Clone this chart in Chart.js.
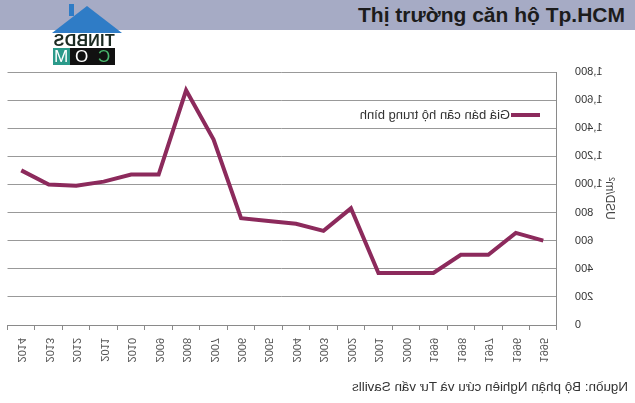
<!DOCTYPE html>
<html>
<head>
<meta charset="utf-8">
<script src="https://cdn.jsdelivr.net/npm/chart.js@4.4.0/dist/chart.umd.min.js"></script>
<style>
  html, body { margin:0; padding:0; background:#fff; }
  body { width:635px; height:403px; position:relative; overflow:hidden; font-family:"Liberation Sans", Arial, sans-serif; }
  #titlebar { position:absolute; left:0; top:0; width:635px; height:30px; background:#a6abc5; z-index:1; }
  #title { position:absolute; right:10px; top:3px; font:bold 21px "Liberation Sans", Arial, sans-serif; color:#1c1c1c; white-space:nowrap; }
  #wrap { position:absolute; left:0; top:0; width:635px; height:403px; transform:scaleX(-1); }
  #chart { position:absolute; left:0; top:0; }
  #source { position:absolute; left:7px; top:379px; font-size:13.4px; color:#333; white-space:nowrap; }
  #logo { position:absolute; left:50px; top:0px; width:72px; height:66px; z-index:2; }
  #roof { position:absolute; left:2px; top:6px; width:70px; height:27px; background:#2f7cc6; clip-path:polygon(0 100%, 50% 0, 100% 100%); }
  #chim { position:absolute; left:19px; top:4px; width:5px; height:12px; background:#2f7cc6; }
  #tin { position:absolute; left:3px; top:32px; width:62px; text-align:center; font:bold 16px "Liberation Sans", Arial, sans-serif; color:#1b2a22; transform:scaleX(-1); letter-spacing:0.3px; }
  .b { position:absolute; top:48px; height:17px; font:17px "Liberation Sans", Arial, sans-serif; line-height:17px; text-align:center; }
  .b span { display:inline-block; transform:scaleX(-1); }
</style>
</head>
<body>
<div id="titlebar"><div id="title">Thị trường căn hộ Tp.HCM</div></div>
<div id="logo">
  <div id="chim"></div><div id="roof"></div>
  <div id="tin">TINBDS</div>
  <div class="b" style="left:3px;width:17px;background:#2b9a8a;color:#fff;"><span>M</span></div>
  <div class="b" style="left:20px;width:23px;background:#111;color:#fff;"><span>O</span></div>
  <div class="b" style="left:43px;width:22px;background:#111;color:#49b86e;"><span>C</span></div>
</div>
<div id="wrap">
  <canvas id="chart" width="635" height="403"></canvas>
  <div id="source">Nguồn: Bộ phận Nghiên cứu và Tư vấn Savills</div>
</div>
<script>
const years = ["1995","1996","1997","1998","1999","2000","2001","2002","2003","2004","2005","2006","2007","2008","2009","2010","2011","2012","2013","2014"];
const avgPrice = [600,655,500,500,370,370,370,830,670,720,740,760,1320,1670,1070,1070,1020,990,1000,1100];
const yTicks = [0,200,400,600,800,1000,1200,1400,1600,1800];
const seriesName = "Giá bán căn hộ trung bình";
const axisTitle = "USD/m²";

const legendPlugin = {
  id: 'innerLegend',
  afterDatasetsDraw(chart) {
    const ctx = chart.ctx;
    const ds = chart.data.datasets[0];
    const area = chart.chartArea;
    const y = area.top + 43;
    const x0 = area.left + 17;
    ctx.save();
    ctx.strokeStyle = ds.borderColor;
    ctx.lineWidth = 4;
    ctx.beginPath();
    ctx.moveTo(x0, y);
    ctx.lineTo(x0 + 29, y);
    ctx.stroke();
    ctx.fillStyle = '#333';
    ctx.font = '13px "Liberation Sans", Arial, sans-serif';
    ctx.textBaseline = 'middle';
    ctx.fillText(ds.label, x0 + 30, y);
    ctx.restore();
  }
};

new Chart(document.getElementById('chart'), {
  type: 'line',
  data: {
    labels: years,
    datasets: [{
      label: seriesName,
      data: avgPrice,
      borderColor: '#8c2a5c',
      borderWidth: 4,
      pointRadius: 0,
      tension: 0,
      fill: false
    }]
  },
  options: {
    responsive: false,
    animation: false,
    layout: { padding: { top: 72, right: 2, bottom: 0, left: 0 } },
    plugins: { legend: { display: false }, tooltip: { enabled: false } },
    scales: {
      x: {
        offset: true,
        grid: { drawOnChartArea: false, drawTicks: true, tickLength: 5, color: '#8a8a8a', offset: true },
        border: { color: '#8a8a8a', width: 1 },
        ticks: { minRotation: 90, maxRotation: 90, autoSkip: false, padding: 8, color: '#555', font: { size: 11, family: '"Liberation Sans", Arial, sans-serif' } },
        afterFit(s) { s.height = 78; }
      },
      y: {
        min: 0, max: 1800,
        afterBuildTicks(s) { s.ticks = yTicks.map(v => ({ value: v })); },
        grid: { color: '#999', drawTicks: false },
        border: { color: '#8a8a8a', width: 1 },
        ticks: { padding: 18, color: '#333', font: { size: 11, family: '"Liberation Sans", Arial, sans-serif' },
                 callback: v => v.toLocaleString('en-US') },
        title: { display: true, text: axisTitle, color: '#444', font: { size: 12, family: '"Liberation Sans", Arial, sans-serif' }, padding: { top: 18, bottom: 0 } },
        afterFit(s) { s.width = 78; }
      }
    }
  },
  plugins: [legendPlugin]
});
</script>
</body>
</html>
